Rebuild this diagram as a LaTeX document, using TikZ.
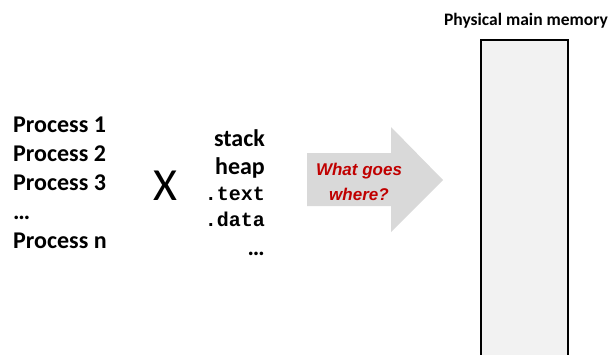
\documentclass[tikz,border=0pt]{standalone}
\usepackage{fontspec}
\setmainfont{Carlito}
\newfontfamily\arialfont{Liberation Sans}
\newfontfamily\monofont{Liberation Mono}
\definecolor{arrowgray}{HTML}{D9D9D9}
\definecolor{memfill}{HTML}{F2F2F2}
\definecolor{qred}{HTML}{C00000}
\begin{document}
\begin{tikzpicture}[x=1pt,y=-1pt,
  proc/.style={anchor=base west,inner sep=0pt,font=\fontsize{24}{24}\selectfont\bfseries},
  seg/.style={anchor=base east,inner sep=0pt,font=\fontsize{24}{24}\selectfont\bfseries},
  mono/.style={anchor=base east,inner sep=0pt,font=\fontsize{20}{20}\selectfont\monofont\bfseries}]
\useasboundingbox (0,0) rectangle (616,354);
\begin{scope}
\clip (0,0) rectangle (616,354);
\draw[line width=2pt,fill=memfill] (481,40) rectangle (568,370);
\end{scope}
\node[anchor=base,inner sep=0pt,font=\fontsize{17.5}{17.5}\selectfont\bfseries] (title) at (526,25) {Physical main memory};
\node[proc] (p1) at (13,132) {Process 1};
\node[proc] (p2) at (13,161) {Process 2};
\node[proc] (p3) at (13,190) {Process 3};
\node[proc] (pd) at (13,219) {…};
\node[proc] (pn) at (13,248) {Process n};
\node[inner sep=0pt,font=\fontsize{46}{46}\selectfont] (x) at (165.5,185.5) {X};
\node[seg] (stack) at (265,146) {stack};
\node[seg] (heap) at (265,174) {heap};
\node[mono] (text) at (265,200) {.text};
\node[mono] (data) at (265,226) {.data};
\node[seg] (sd) at (265,255) {…};
\fill[arrowgray] (307,153) -- (391,153) -- (391,127) -- (443,180) -- (391,232) -- (391,206) -- (307,206) -- cycle;
\node[anchor=base,inner sep=0pt,text=qred,font=\fontsize{17}{17}\selectfont\arialfont\bfseries\itshape] (q1) at (359,175) {What goes};
\node[anchor=base,inner sep=0pt,text=qred,font=\fontsize{17}{17}\selectfont\arialfont\bfseries\itshape] (q2) at (359,200) {where?};
\end{tikzpicture}
\end{document}
